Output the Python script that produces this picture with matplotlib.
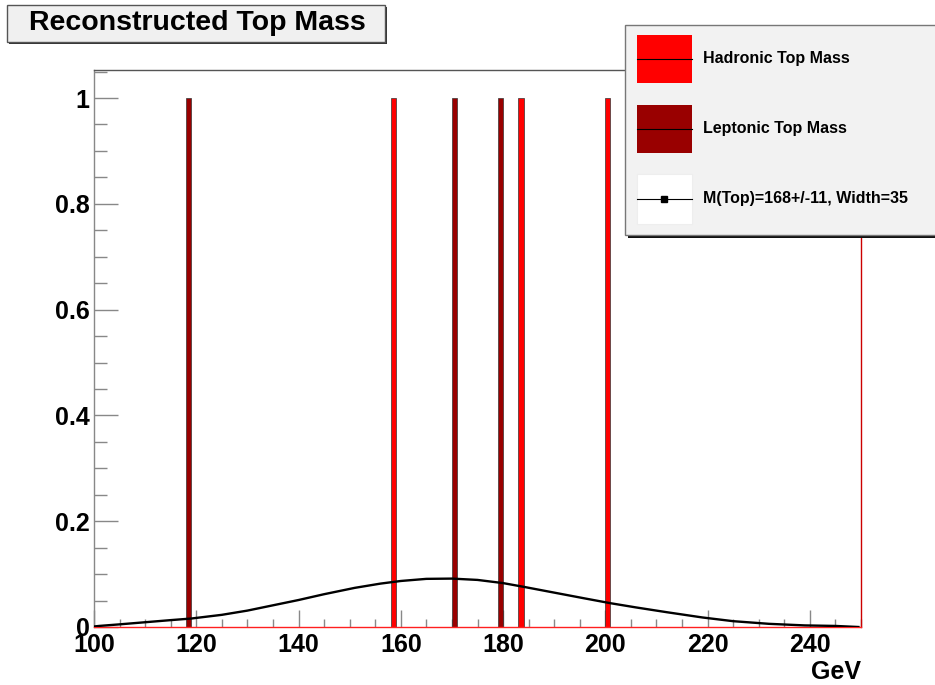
import matplotlib
matplotlib.use("Agg")
import matplotlib.pyplot as plt
from matplotlib.patches import Rectangle
from matplotlib.lines import Line2D
from matplotlib.ticker import MultipleLocator

plt.rcParams['font.family'] = ['Liberation Sans', 'DejaVu Sans']
plt.rcParams['font.weight'] = 'bold'

# histogram entries (lower bin edge, GeV) - 1 GeV bins from 100 to 250
hadronic_bins = [158, 183, 200, 250]
hadronic_counts = [1, 1, 1, 1]
leptonic_bins = [118, 170, 179]
leptonic_counts = [1, 1, 1]
bin_width = 1.0

# gaussian fit curve, sampled
fit_x = [100, 101, 105, 110, 115, 119, 125, 130, 135, 140, 145, 151, 156,
         160, 165, 170, 175, 180, 184, 190, 196, 201, 206, 212, 219, 225,
         232, 239, 245, 249.5]
fit_y = [0.001, 0.002, 0.005, 0.009, 0.013, 0.016, 0.023, 0.031, 0.041,
         0.051, 0.062, 0.074, 0.082, 0.087, 0.091, 0.0915, 0.089, 0.083,
         0.076, 0.065, 0.054, 0.045, 0.037, 0.028, 0.018, 0.011, 0.006,
         0.003, 0.002, 0.000]

legend_labels = ["Hadronic Top Mass", "Leptonic Top Mass",
                 "M(Top)=168+/-11, Width=35"]
title_text = "Reconstructed Top Mass"

HAD = '#ff0000'
LEP = '#990000'
W, H = 935, 685


def fx(x):
    return x / W


def fy(y):
    return 1 - y / H


def frect(x0, y0, x1, y1, **kw):
    # rectangle in pixel coordinates (origin top left)
    return Rectangle((fx(x0), fy(y1)), (x1 - x0) / W, (y1 - y0) / H,
                     transform=fig.transFigure, **kw)


fig = plt.figure(figsize=(9.35, 6.85), dpi=100)
ax = fig.add_axes([fx(94), fy(627), (861 - 94) / W, (627 - 70) / H])

ax.bar(hadronic_bins, hadronic_counts, width=bin_width, align='edge',
       color=HAD, edgecolor='#333333', linewidth=0.5, zorder=2)
ax.bar(leptonic_bins, leptonic_counts, width=bin_width, align='edge',
       color=LEP, edgecolor='#333333', linewidth=0.5, zorder=2)
ax.plot(fit_x, fit_y, color='black', linewidth=1.7, zorder=3)

ax.set_xlim(100, 250)
ax.set_ylim(0, 1.053)
ax.xaxis.set_major_locator(MultipleLocator(20))
ax.xaxis.set_minor_locator(MultipleLocator(5))
ax.yaxis.set_major_locator(MultipleLocator(0.2))
ax.yaxis.set_minor_locator(MultipleLocator(0.05))
ax.set_yticks([0, 0.2, 0.4, 0.6, 0.8, 1.0])
ax.set_yticklabels(['0', '0.2', '0.4', '0.6', '0.8', '1'])

ax.tick_params(axis='both', which='both', direction='in', colors='#888888',
               labelcolor='black', labelsize=18, width=1)
ax.tick_params(axis='x', which='major', length=12, pad=4)
ax.tick_params(axis='x', which='minor', length=6)
ax.tick_params(axis='y', which='major', length=17, pad=3)
ax.tick_params(axis='y', which='minor', length=9)
for lab in ax.get_xticklabels() + ax.get_yticklabels():
    lab.set_fontweight('bold')

ax.spines['left'].set_color('#888888')
ax.spines['top'].set_color('#555555')
ax.spines['bottom'].set_color('#ff2020')
ax.spines['right'].set_color('#cc0000')
for s in ax.spines.values():
    s.set_linewidth(1)

fig.text(fx(861), fy(672), "GeV", ha='right', va='center', fontsize=18,
         fontweight='bold')

# title box
fig.add_artist(frect(9, 7, 387, 44, facecolor='#333333', edgecolor='none'))
fig.add_artist(frect(7, 5, 385, 42, facecolor='#f0f0f0', edgecolor='#555555',
                     linewidth=1))
fig.text(fx(197), fy(23), title_text, ha='center', va='center',
         fontsize=20.5, fontweight='bold')

# legend box
fig.add_artist(frect(628, 28, 940, 238, facecolor='#111111', edgecolor='none',
                     zorder=5))
fig.add_artist(frect(625, 25, 937, 235, facecolor='#f2f2f2',
                     edgecolor='#777777', linewidth=1, zorder=6))

entries = [(35, 83, HAD), (105, 153, LEP)]
for (y0, y1, c), lab in zip(entries, legend_labels[:2]):
    fig.add_artist(frect(637, y0, 692, y1, facecolor=c, edgecolor='none',
                         zorder=7))
    ym = (y0 + y1) / 2
    fig.add_artist(Line2D([fx(637), fx(692)], [fy(ym), fy(ym)],
                          color='black', linewidth=0.8,
                          transform=fig.transFigure, zorder=8))
    fig.text(fx(703), fy(ym), lab, ha='left', va='center', fontsize=11.5,
             fontweight='bold', zorder=8)

fig.add_artist(frect(637, 174, 692, 224, facecolor='white',
                     edgecolor='#eeeeee', linewidth=0.8, zorder=7))
fig.add_artist(Line2D([fx(637), fx(664), fx(692)], [fy(199)] * 3,
                      color='black', linewidth=0.8, marker='s',
                      markersize=4.5, markevery=[1],
                      transform=fig.transFigure, zorder=8))
fig.text(fx(703), fy(199), legend_labels[2], ha='left', va='center',
         fontsize=11.5, fontweight='bold', zorder=8)

fig.savefig("out.png", dpi=100)
